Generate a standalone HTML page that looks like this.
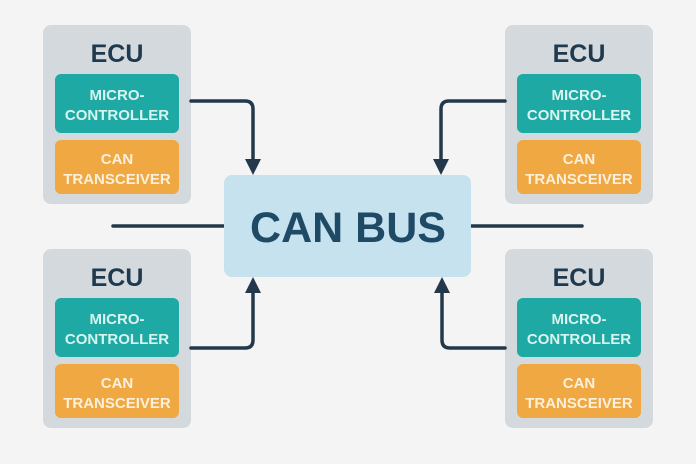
<!DOCTYPE html>
<html><head><meta charset="utf-8"><style>
html,body{margin:0;padding:0;background:#f4f4f4;}
svg{display:block;font-family:"Liberation Sans",sans-serif;font-weight:bold;}
</style></head><body>
<svg width="696" height="464" viewBox="0 0 696 464">
<rect width="696" height="464" fill="#f4f4f4"/>
<defs>
<g id="ecu">
<rect x="0" y="0" width="148" height="179" rx="8" fill="#d3d9dd"/>
<text x="74" y="37" text-anchor="middle" font-size="25" fill="#1f3a4f">ECU</text>
<rect x="12" y="49" width="124" height="59" rx="6" fill="#1fa9a5"/>
<text x="74" y="75" text-anchor="middle" font-size="15" fill="#d8f4ef">MICRO-</text>
<text x="74" y="95" text-anchor="middle" font-size="15" fill="#d8f4ef">CONTROLLER</text>
<rect x="12" y="115" width="124" height="54" rx="6" fill="#f0a843"/>
<text x="74" y="139" text-anchor="middle" font-size="15" fill="#fdf0dc">CAN</text>
<text x="74" y="159" text-anchor="middle" font-size="15" fill="#fdf0dc">TRANSCEIVER</text>
</g>
</defs>
<use href="#ecu" x="43" y="25"/>
<use href="#ecu" x="505" y="25"/>
<use href="#ecu" x="43" y="249"/>
<use href="#ecu" x="505" y="249"/>
<g stroke="#23384a" stroke-width="3.5" fill="none" stroke-linecap="round" stroke-linejoin="round">
<line x1="113" y1="226" x2="224" y2="226"/>
<line x1="471" y1="226" x2="582" y2="226"/>
<path d="M191 101 H245 Q253 101 253 109 V160"/>
<path d="M505 101 H449 Q441 101 441 109 V160"/>
<path d="M191 348 H245 Q253 348 253 340 V292"/>
<path d="M505 348 H450 Q442 348 442 340 V292"/>
</g>
<g fill="#23384a">
<polygon points="245,159 261,159 253,175"/>
<polygon points="433,159 449,159 441,175"/>
<polygon points="245,293 261,293 253,277"/>
<polygon points="434,293 450,293 442,277"/>
</g>
<rect x="224" y="175" width="247" height="102" rx="8" fill="#c5e2ee"/>
<text x="348" y="242" text-anchor="middle" font-size="43" fill="#1f4a66">CAN BUS</text>
</svg>
</body></html>
